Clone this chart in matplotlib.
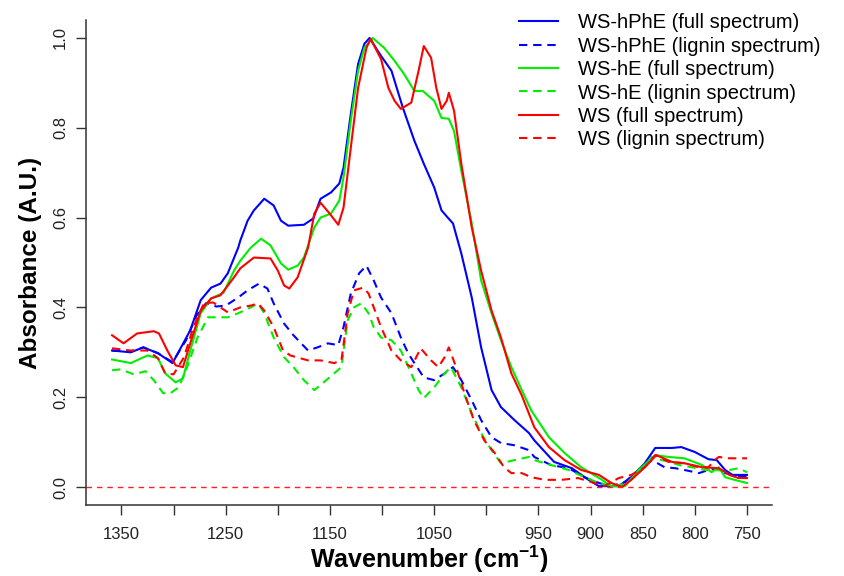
import matplotlib
matplotlib.use("Agg")
import matplotlib.pyplot as plt

plt.rcParams['font.family'] = ['Liberation Sans', 'DejaVu Sans']
plt.rcParams['mathtext.fontset'] = 'custom'
plt.rcParams['mathtext.rm'] = 'Liberation Sans:bold'
plt.rcParams['mathtext.bf'] = 'Liberation Sans:bold'
plt.rcParams['mathtext.default'] = 'rm'

# WS-hPhE, full spectrum
hphe_full_wn = [1359, 1341, 1329, 1315, 1301, 1284, 1274, 1264, 1255, 1248, 1238, 1236, 1229,
                1223, 1213, 1204, 1197, 1190, 1175, 1166, 1159, 1149, 1141, 1137, 1130, 1123,
                1117, 1112, 1101, 1091, 1080, 1069, 1060, 1050, 1043, 1037, 1032, 1024, 1014,
                1005, 995, 986, 973, 959, 954, 935, 918, 902, 892, 873, 861, 848, 838, 822,
                813, 800, 787, 779, 771, 764, 750]
hphe_full_abs = [.304, .300, .311, .298, .276, .349, .416, .444, .453, .476, .533, .549, .593,
                 .616, .642, .627, .593, .582, .584, .598, .642, .656, .676, .711, .831, .942,
                 .987, 1.0, .96, .927, .844, .771, .72, .667, .616, .600, .587, .520, .422,
                 .311, .216, .178, .149, .120, .104, .056, .042, .016, .002, .002, .022, .053,
                 .087, .087, .089, .078, .062, .060, .038, .027, .027]

# WS-hPhE, lignin spectrum
hphe_lig_wn = [1359, 1341, 1329, 1315, 1301, 1288, 1278, 1269, 1259, 1250, 1238, 1229, 1218,
               1210, 1204, 1194, 1185, 1171, 1162, 1152, 1142, 1137, 1130, 1122, 1115, 1108,
               1101, 1091, 1082, 1075, 1069, 1060, 1050, 1040, 1032, 1024, 1014, 1005, 995,
               986, 973, 959, 954, 938, 921, 906, 892, 880, 867, 854, 841, 829, 819, 810,
               796, 787, 779, 771, 758, 750]
hphe_lig_abs = [.304, .302, .311, .298, .278, .327, .382, .409, .402, .404, .422, .438, .453,
                .442, .409, .364, .338, .304, .311, .320, .316, .356, .431, .476, .493, .460,
                .422, .387, .333, .298, .276, .244, .238, .253, .267, .238, .193, .149, .111,
                .098, .093, .082, .067, .049, .042, .022, .009, .002, .011, .038, .060, .044,
                .042, .038, .031, .038, .042, .031, .024, .024]

# WS-hE, full spectrum
he_full_wn = [1359, 1341, 1325, 1315, 1308, 1298, 1291, 1284, 1274, 1264, 1252, 1242, 1236,
              1226, 1216, 1207, 1197, 1190, 1181, 1175, 1165, 1159, 1149, 1141, 1137, 1130,
              1123, 1117, 1109, 1098, 1088, 1079, 1069, 1061, 1050, 1043, 1036, 1031, 1024,
              1014, 1005, 995, 986, 976, 966, 957, 940, 925, 909, 889, 880, 867, 854, 838,
              825, 810, 793, 784, 777, 771, 762, 750]
he_full_abs = [.284, .276, .293, .287, .253, .233, .242, .304, .387, .420, .433, .482, .504,
               .533, .553, .538, .498, .484, .493, .511, .578, .600, .609, .638, .689, .816,
               .927, .978, 1.0, .978, .949, .920, .882, .882, .860, .822, .820, .793, .704,
               .587, .460, .387, .327, .267, .216, .171, .111, .076, .044, .016, .002, .002,
               .038, .071, .067, .064, .049, .033, .044, .022, .016, .009]

# WS-hE, lignin spectrum
he_lig_wn = [1359, 1351, 1338, 1327, 1319, 1310, 1303, 1295, 1287, 1277, 1267, 1258, 1248,
             1238, 1226, 1219, 1213, 1204, 1194, 1185, 1175, 1165, 1156, 1146, 1139, 1133,
             1127, 1120, 1113, 1108, 1101, 1091, 1082, 1072, 1065, 1060, 1050, 1040, 1034,
             1024, 1014, 1005, 995, 986, 973, 959, 954, 938, 921, 906, 892, 880, 867, 854,
             841, 832, 824, 815, 803, 790, 781, 771, 758, 750]
he_lig_abs = [.260, .262, .251, .258, .238, .209, .209, .222, .267, .333, .378, .378, .378,
              .387, .400, .409, .387, .333, .289, .267, .238, .216, .233, .253, .267, .371,
              .400, .409, .387, .356, .333, .327, .304, .253, .216, .198, .222, .253, .267,
              .222, .164, .120, .082, .053, .060, .067, .060, .049, .038, .022, .009, .002,
              .007, .031, .067, .060, .056, .049, .044, .038, .038, .036, .042, .033]

# WS, full spectrum
ws_full_wn = [1359, 1348, 1335, 1319, 1314, 1306, 1298, 1291, 1284, 1274, 1264, 1255, 1242,
              1236, 1223, 1207, 1200, 1194, 1189, 1181, 1171, 1165, 1159, 1151, 1142, 1137,
              1130, 1123, 1115, 1111, 1101, 1094, 1088, 1082, 1072, 1065, 1060, 1053, 1048,
              1043, 1038, 1036, 1031, 1024, 1014, 1005, 995, 986, 976, 966, 954, 940, 925,
              909, 892, 880, 870, 861, 848, 837, 822, 810, 793, 777, 767, 758, 750]
ws_full_abs = [.338, .320, .342, .347, .342, .304, .271, .267, .320, .393, .420, .427, .467,
               .487, .511, .509, .482, .449, .442, .467, .533, .609, .633, .611, .584, .622,
               .756, .889, .978, .998, .953, .889, .860, .842, .856, .927, .982, .956, .889,
               .842, .860, .878, .838, .720, .578, .482, .393, .333, .253, .204, .133, .089,
               .060, .038, .027, .009, .000, .016, .044, .071, .056, .053, .044, .042, .027,
               .020, .020]

# WS, lignin spectrum
ws_lig_wn = [1359, 1341, 1325, 1315, 1308, 1300, 1290, 1281, 1271, 1262, 1248, 1236, 1226,
             1219, 1213, 1204, 1195, 1188, 1171, 1159, 1146, 1139, 1133, 1127, 1118, 1113,
             1108, 1101, 1091, 1082, 1072, 1063, 1053, 1046, 1040, 1036, 1029, 1021, 1012,
             1002, 992, 983, 976, 966, 957, 944, 928, 912, 899, 887, 873, 861, 848, 838,
             825, 810, 796, 787, 781, 777, 767, 750]
ws_lig_abs = [.309, .304, .304, .287, .253, .251, .289, .356, .409, .411, .389, .400, .404,
              .409, .393, .356, .304, .293, .282, .282, .276, .282, .387, .438, .444, .431,
              .400, .356, .304, .282, .267, .309, .282, .267, .289, .311, .267, .209, .149,
              .104, .076, .044, .031, .031, .022, .016, .016, .020, .011, .002, .020, .027,
              .044, .071, .056, .053, .044, .044, .060, .067, .064, .064]

labels = ["WS-hPhE (full spectrum)", "WS-hPhE (lignin spectrum)",
          "WS-hE (full spectrum)", "WS-hE (lignin spectrum)",
          "WS (full spectrum)", "WS (lignin spectrum)"]
x_ticks = [1350, 1300, 1250, 1200, 1150, 1100, 1050, 1000, 950, 900, 850, 800, 750]
x_ticklabels = ["1350", "", "1250", "", "1150", "", "1050", "", "950", "900", "850", "800", "750"]
y_ticks = [0.0, 0.2, 0.4, 0.6, 0.8, 1.0]

series = [
    (hphe_full_wn, hphe_full_abs, "#0000FF", "-"),
    (hphe_lig_wn, hphe_lig_abs, "#0000FF", "--"),
    (he_full_wn, he_full_abs, "#00EE00", "-"),
    (he_lig_wn, he_lig_abs, "#00EE00", "--"),
    (ws_full_wn, ws_full_abs, "#FF0000", "-"),
    (ws_lig_wn, ws_lig_abs, "#FF0000", "--"),
]

fig = plt.figure(figsize=(8.44, 5.76), dpi=100)
ax = fig.add_axes([86 / 844, 71 / 576, 686 / 844, 485 / 576])

handles = []
for (wn, ab, col, ls), lab in zip(series, labels):
    dash = (0, (4, 2.8)) if ls == "--" else "-"
    ln, = ax.plot(wn, ab, color=col, lw=1.5, ls=dash, label=lab)
    handles.append(ln)

ax.axhline(0, color="#FF2020", lw=1.0, ls=(0, (4, 3.5)))

ax.set_xlim(1384, 726)
ax.set_ylim(-0.04, 1.04)
ax.set_xticks(x_ticks)
ax.set_xticklabels(x_ticklabels)
ax.set_yticks(y_ticks)
ax.set_yticklabels([f"{v:.1f}" for v in y_ticks], rotation=90, va="center")

for s in ["top", "right"]:
    ax.spines[s].set_visible(False)
for s in ["left", "bottom"]:
    ax.spines[s].set_color("#333333")
    ax.spines[s].set_linewidth(1.1)
ax.tick_params(axis="both", direction="out", length=7, width=1.0, colors="#333333",
               labelsize=12, labelcolor="#222222")
ax.tick_params(axis="x", pad=9)
ax.tick_params(axis="y", pad=6)

ax.set_xlabel("Wavenumber (cm$^{-1}$)", fontsize=18, fontweight="bold", labelpad=1)
ax.set_ylabel("Absorbance (A.U.)", fontsize=17.5, fontweight="bold", labelpad=8)

fig.legend(handles=handles, loc="upper left", bbox_to_anchor=(503 / 844, 1.005),
           frameon=False, fontsize=14.5, handlelength=1.95, handletextpad=0.95,
           labelspacing=0.22, borderpad=0.3)

fig.savefig("out.png", dpi=100)
